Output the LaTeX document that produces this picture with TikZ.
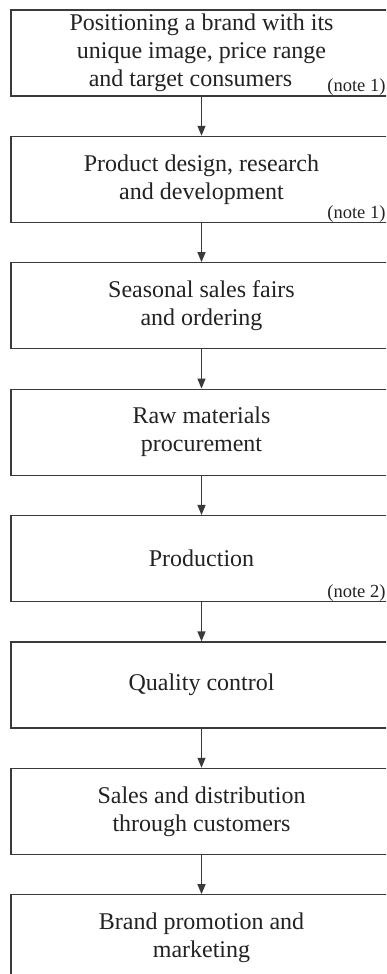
\documentclass[tikz,border=0pt]{standalone}
\usepackage{fontspec}
\setmainfont{Liberation Serif}
\usetikzlibrary{arrows.meta}
\definecolor{ink}{HTML}{3A3A3A}
\definecolor{txt}{HTML}{222222}
\begin{document}
\begin{tikzpicture}[x=1pt,y=-1pt,
  stagebox/.style={draw=ink, line width=1.3pt, minimum width=381pt,
    minimum height=86pt, inner sep=0pt, align=center, text=txt,
    font=\fontsize{24}{28}\selectfont},
  flow/.style={draw=ink, line width=1.3pt, -{Triangle[length=10pt,width=8pt]}},
  notetext/.style={font=\fontsize{18.5}{20}\selectfont, text=txt,
    anchor=base east, inner sep=0pt}]
\useasboundingbox (0,0) rectangle (386,974);
\clip (0,0) rectangle (386,974);

% process stages, top to bottom
\node[stagebox] (b1) at (201.5,53)    {Positioning a brand with its\\unique image, price range\\and target consumers\hspace*{22pt}};
\node[stagebox] (b2) at (201.5,179.4) {Product design, research\\and development};
\node[stagebox] (b3) at (201.5,305.8) {Seasonal sales fairs\\and ordering};
\node[stagebox] (b4) at (201.5,432.2) {Raw materials\\procurement};
\node[stagebox] (b5) at (201.5,558.6) {Production};
\node[stagebox] (b6) at (201.5,685)   {Quality control};
\node[stagebox] (b7) at (201.5,811.4) {Sales and distribution\\through customers};
\node[stagebox] (b8) at (201.5,937.8) {Brand promotion and\\marketing};

% footnote markers
\node[notetext] (n1) at ([xshift=-7pt,yshift=5pt]b1.south east) {(note 1)};
\node[notetext] (n2) at ([xshift=-7pt,yshift=5pt]b2.south east) {(note 1)};
\node[notetext] (n3) at ([xshift=-7pt,yshift=5pt]b5.south east) {(note 2)};

% connectors
\foreach \a/\b in {b1/b2,b2/b3,b3/b4,b4/b5,b5/b6,b6/b7,b7/b8}
  \draw[flow] (\a.south) -- (\b.north);
\end{tikzpicture}
\end{document}
